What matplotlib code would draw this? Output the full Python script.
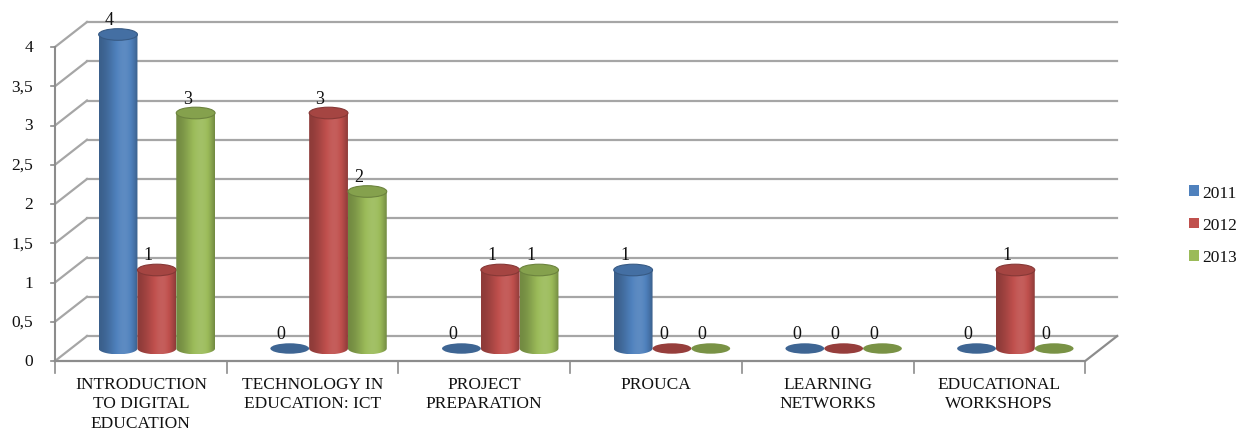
import numpy as np
import matplotlib.pyplot as plt
from matplotlib.patches import Ellipse, PathPatch, Patch
from matplotlib.path import Path
from matplotlib.colors import to_rgb

# Daten
categories = ["INTRODUCTION\nTO DIGITAL\nEDUCATION", "TECHNOLOGY IN\nEDUCATION: ICT",
              "PROJECT\nPREPARATION", "PROUCA", "LEARNING\nNETWORKS",
              "EDUCATIONAL\nWORKSHOPS"]
years = ["2011", "2012", "2013"]
values_2011 = [4, 0, 0, 1, 0, 0]
values_2012 = [1, 3, 1, 0, 0, 1]
values_2013 = [3, 2, 1, 0, 0, 0]
y_ticks = [0, 0.5, 1, 1.5, 2, 2.5, 3, 3.5, 4]
y_tick_labels = ["0", "0,5", "1", "1,5", "2", "2,5", "3", "3,5", "4"]
series_colors = ["#4F81BD", "#C0504D", "#9BBB59"]

series = [values_2011, values_2012, values_2013]

# Geometrie der Pseudo-3D-Darstellung (Pixel pro Einheit)
W, H = 1242, 439
px_x = 171.7          # Pixel pro Kategorie
px_y = 78.5           # Pixel pro Werteinheit
x0_px, y0_px = 55, 362
depth_x = 32 / px_x   # Tiefenversatz der Rückwand
depth_y = 25 / px_y
bar_w = 0.226
ell_h = 5.8 / px_y    # halbe Ellipsenhöhe
grid_col = "#A6A6A6"
font = "Liberation Serif"
txt_col = "#111111"


def shade(rgb, f):
    rgb = np.asarray(rgb)
    f = np.asarray(f)[..., None]
    return np.where(f <= 1, rgb * f, rgb + (1 - rgb) * (f - 1))


def draw_cylinder(ax, cx, yb, yt, color, z):
    base = np.array(to_rgb(color))
    hw = bar_w / 2
    xl, xr = cx - hw, cx + hw
    a = np.linspace(np.pi, 2 * np.pi, 40)
    arc = np.column_stack([cx + hw * np.cos(a), yb + ell_h * np.sin(a)])
    verts = np.vstack([[xl, yt], [xl, yb], arc, [xr, yt], [xl, yt]])
    codes = [Path.MOVETO] + [Path.LINETO] * (len(verts) - 2) + [Path.CLOSEPOLY]
    body = PathPatch(Path(verts, codes), facecolor="none", edgecolor="none", zorder=z)
    ax.add_patch(body)
    t = np.linspace(0, 1, 60)
    prof = 0.74 + 0.34 * np.sin(np.pi * t ** 1.6)
    img = shade(base, prof)[None, :, :]
    im = ax.imshow(img, extent=(xl, xr, yb - ell_h, yt), aspect="auto",
                   interpolation="bilinear", zorder=z)
    im.set_clip_path(body)
    top = Ellipse((cx, yt), 2 * hw, 2 * ell_h, facecolor=shade(base, 0.86),
                  edgecolor=shade(base, 0.7), lw=0.8, zorder=z + 0.1)
    ax.add_patch(top)


fig = plt.figure(figsize=(W / 100, H / 100), dpi=100)
ax = fig.add_axes([0, 0, 1, 1])
ax.set_axis_off()
xlim = (-x0_px / px_x, (W - x0_px) / px_x)
ylim = (-(H - y0_px) / px_y, y0_px / px_y)
n = len(categories)

# Rückwand mit Gitterlinien und Verbindungen zur Frontachse
for v in y_ticks:
    ax.plot([depth_x, n + depth_x], [v + depth_y, v + depth_y], color=grid_col, lw=1.6, zorder=1)
    ax.plot([0, depth_x], [v, v + depth_y], color=grid_col, lw=1.6, zorder=1)
    ax.plot([-0.025, 0], [v, v], color="#8C8C8C", lw=1.2, zorder=1)

# Boden und Achsen
ax.plot([0, n, n + depth_x], [0, 0, depth_y], color="#8C8C8C", lw=1.6, zorder=1)
ax.plot([0, 0], [0, y_ticks[-1]], color="#8C8C8C", lw=1.5, zorder=1)
for i in range(n + 1):
    ax.plot([i, i], [0, -12 / px_y], color="#8C8C8C", lw=1.2, zorder=1)

for v, lab in zip(y_ticks, y_tick_labels):
    ax.text(-22 / px_x, v, lab, ha="right", va="center", fontsize=12.5, family=font, color=txt_col)

for i, cat in enumerate(categories):
    ax.text(i + 0.5, -15 / px_y, cat, ha="center", va="top", fontsize=12.5,
            family=font, linespacing=1.28, color=txt_col)

# Zylinder
group_off = (1 - 3 * bar_w) / 2
z = 3
for i in range(n):
    for j, vals in enumerate(series):
        cx = i + group_off + bar_w * (j + 0.5) + depth_x / 2
        yb = depth_y / 2
        v = vals[i]
        base = np.array(to_rgb(series_colors[j]))
        if v == 0:
            ax.add_patch(Ellipse((cx, yb), bar_w, 1.8 * ell_h, facecolor=shade(base, 0.78),
                                 edgecolor="none", zorder=z))
            top_y = yb
        else:
            top_y = v + depth_y / 2
            draw_cylinder(ax, cx, yb, top_y, series_colors[j], z)
        ax.text(cx - 8.5 / px_x, top_y + 15 / px_y, str(v), ha="center", va="center",
                fontsize=13, family=font, color=txt_col, zorder=50)
        z += 1

handles = [Patch(facecolor=c, edgecolor="none") for c in series_colors]
leg = ax.legend(handles, years, loc="center left", bbox_to_anchor=(1189 / W, 1 - 226 / H),
                frameon=False, handlelength=0.55, handleheight=0.55, handletextpad=0.2,
                labelspacing=0.95, borderaxespad=0, borderpad=0,
                prop={"family": font, "size": 12.5})
for t in leg.get_texts():
    t.set_color(txt_col)

ax.set_xlim(*xlim)
ax.set_ylim(*ylim)
fig.savefig("out.png", dpi=100)
